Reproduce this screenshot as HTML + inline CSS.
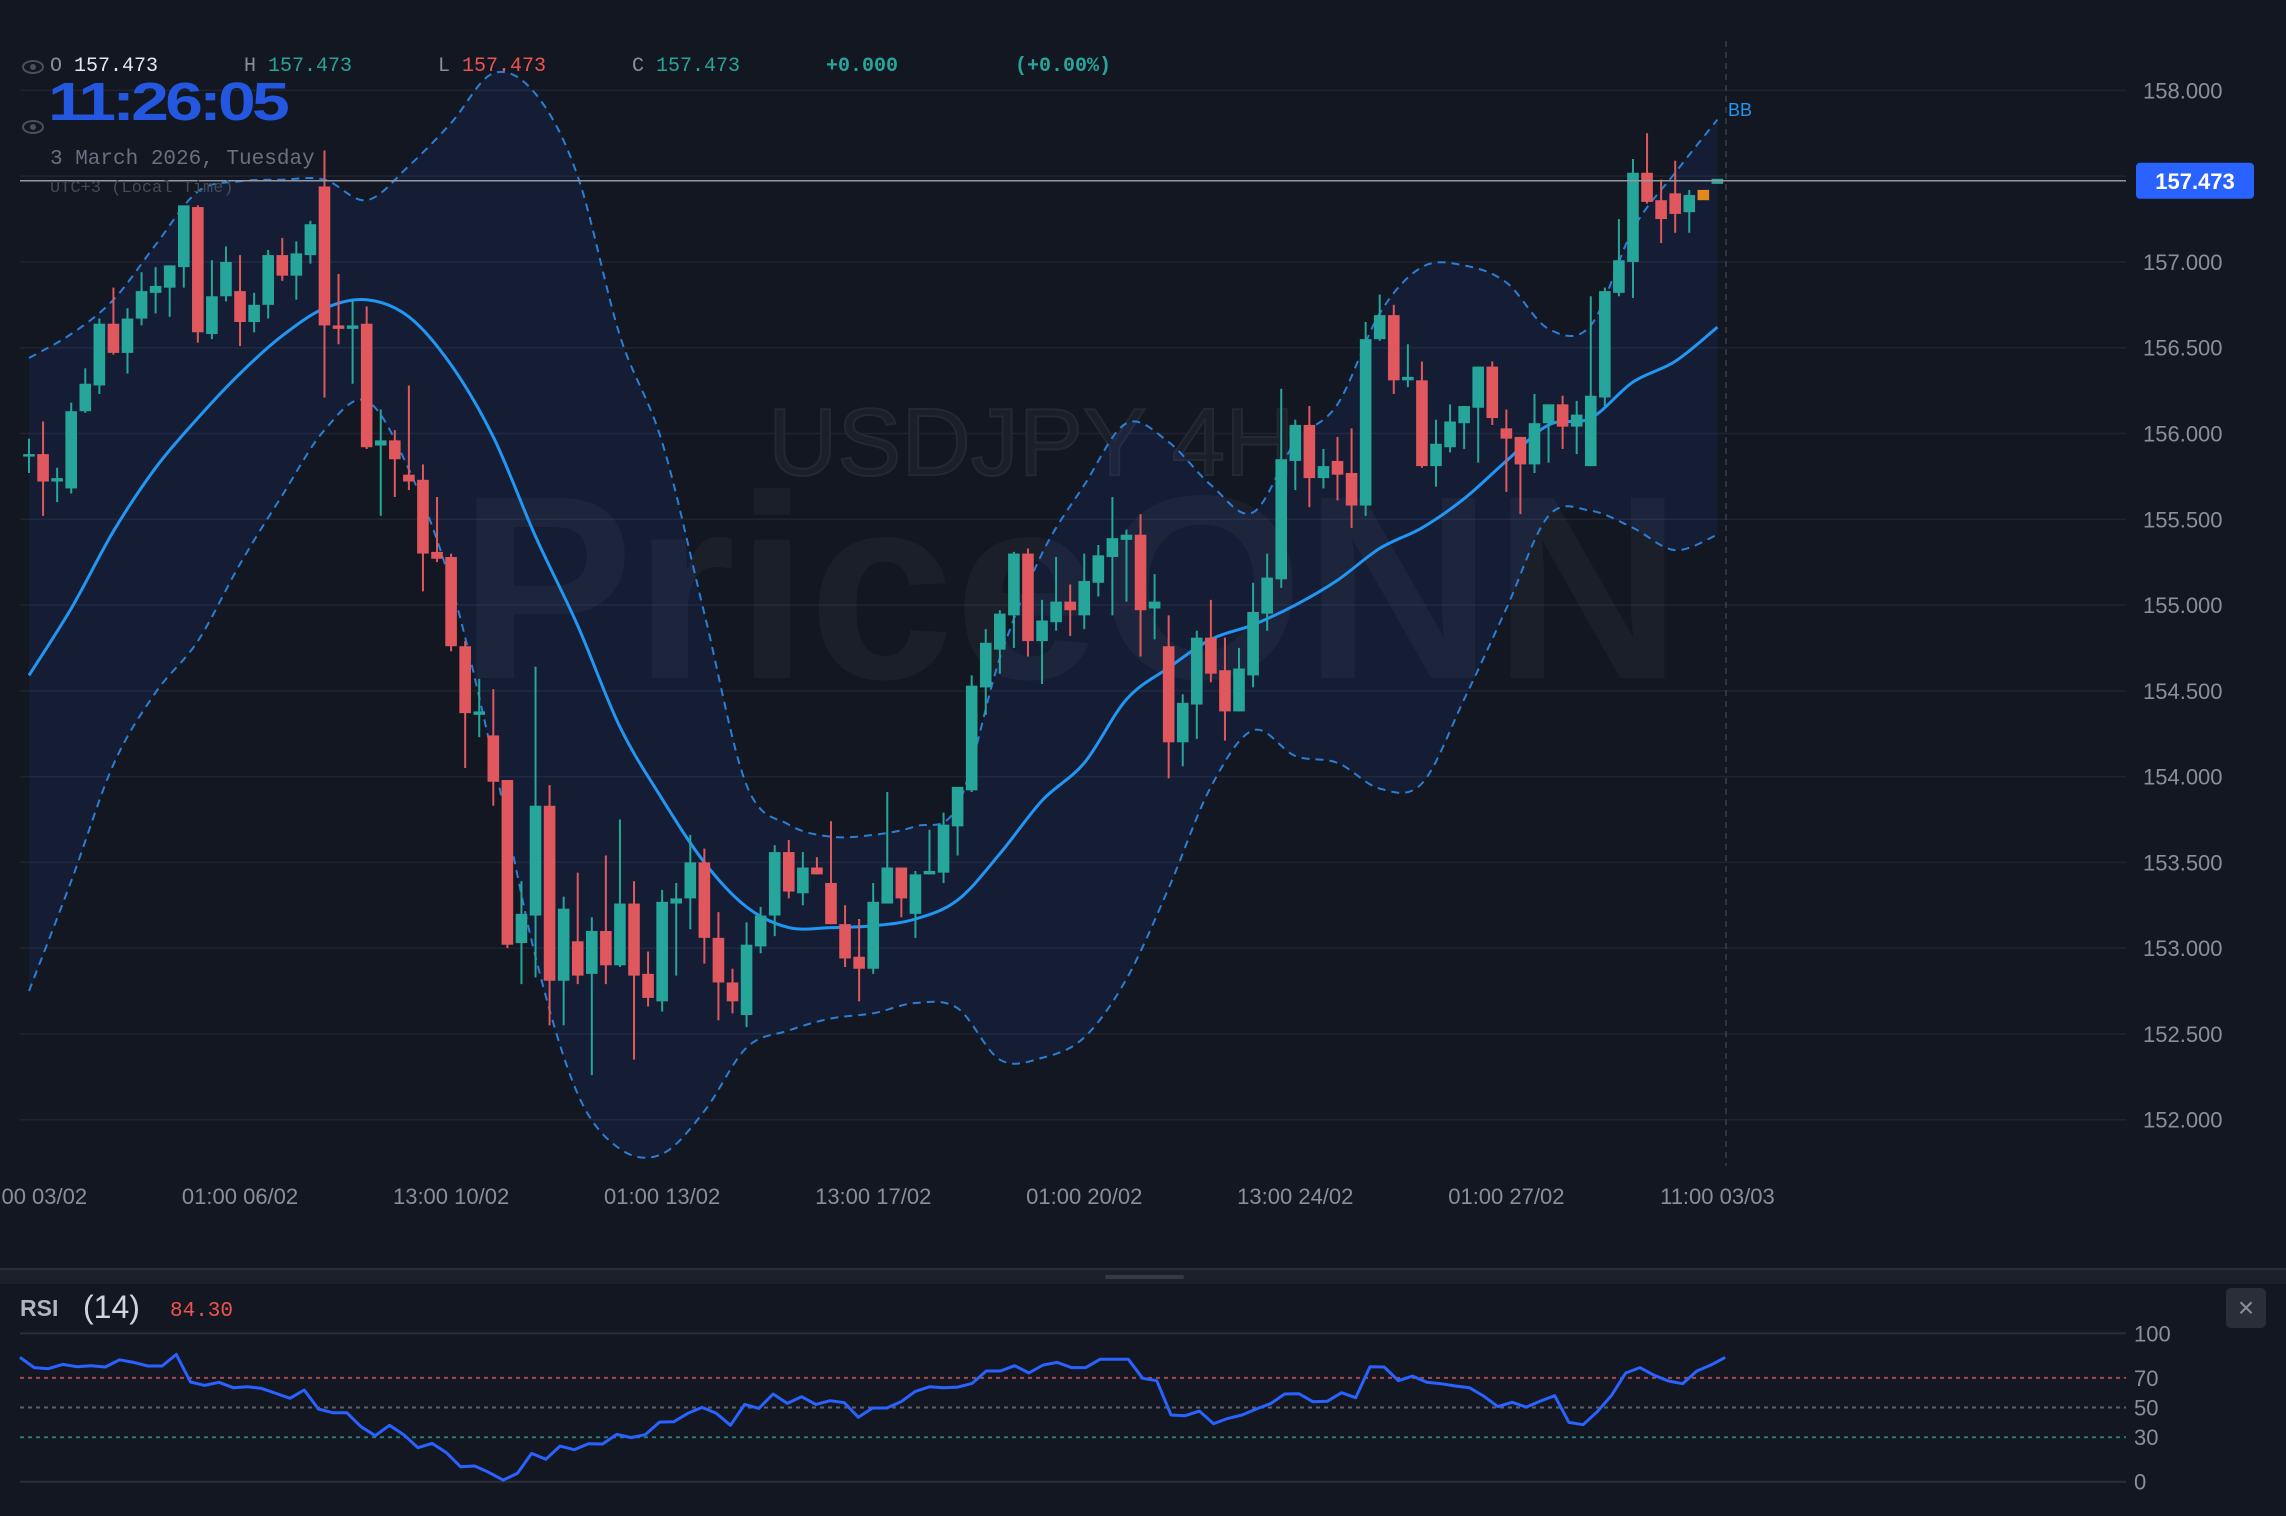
<!DOCTYPE html>
<html><head><meta charset="utf-8"><title>USDJPY 4H</title>
<style>
html,body{margin:0;padding:0;background:#131722;}
body{width:2286px;height:1516px;overflow:hidden;}
svg{display:block;}
text{font-family:"Liberation Sans",sans-serif;}
.mono{font-family:"Liberation Mono",monospace;}
</style></head>
<body>
<svg id="chart" width="2286" height="1516" viewBox="0 0 2286 1516" xmlns="http://www.w3.org/2000/svg">
  <rect x="0" y="0" width="2286" height="1516" fill="#131722"/>
  <g id="grid"></g>
  <g>
    <text x="768" y="475" font-size="96" fill="#1b1f29" stroke="#232834" stroke-width="2">USDJPY 4H</text>
    <text x="459" y="678" font-size="262" font-weight="bold" fill="#ffffff" fill-opacity="0.035">PriceONN</text>
  </g>
  <g id="bands"></g>
  <g id="candles"></g>
  <g id="xaxis"></g>
  <g id="yaxis"></g>
  <g id="overlay"></g>

  <g>
    <g transform="translate(33,67)">
      <ellipse rx="10" ry="6" fill="none" stroke="#4a4f5c" stroke-width="2"/><circle r="3" fill="#4a4f5c"/>
    </g>
    <g transform="translate(33,127)">
      <ellipse rx="10" ry="6" fill="none" stroke="#4a4f5c" stroke-width="2"/><circle r="3" fill="#4a4f5c"/>
    </g>
    <text class="mono" x="50" y="71" font-size="20" fill="#8a8f9a">O</text>
    <text class="mono" x="74" y="71" font-size="20" fill="#e6e8ee">157.473</text>
    <text class="mono" x="244" y="71" font-size="20" fill="#8a8f9a">H</text>
    <text class="mono" x="268" y="71" font-size="20" fill="#26a69a">157.473</text>
    <text class="mono" x="438" y="71" font-size="20" fill="#8a8f9a">L</text>
    <text class="mono" x="462" y="71" font-size="20" fill="#ef5350">157.473</text>
    <text class="mono" x="632" y="71" font-size="20" fill="#8a8f9a">C</text>
    <text class="mono" x="656" y="71" font-size="20" fill="#26a69a">157.473</text>
    <text class="mono" x="826" y="71" font-size="20" fill="#26a69a" font-weight="bold">+0.000</text>
    <text class="mono" x="1015" y="71" font-size="20" fill="#26a69a" font-weight="bold">(+0.00%)</text>
    <text x="48" y="120" font-size="54" font-weight="bold" fill="#2457e0" letter-spacing="-3" textLength="238" lengthAdjust="spacingAndGlyphs">11:26:05</text>
    <text class="mono" x="50" y="164" font-size="21" fill="#6b7080">3 March 2026, Tuesday</text>
    <text class="mono" x="50" y="192" font-size="17" fill="#454a57">UTC+3 (Local Time)</text>
  </g>

  <g>
    <rect x="0" y="1268" width="2286" height="16" fill="#1c202b"/>
    <rect x="0" y="1268" width="2286" height="2" fill="#2a2e39"/>
    <rect x="1105" y="1275" width="79" height="4" rx="2" fill="#363a45"/>
  </g>

  <g id="rsi">
    <text x="20" y="1316" font-size="23" font-weight="bold" fill="#b2b5be">RSI</text>
    <text x="83" y="1318" font-size="32" fill="#d1d4dc">(14)</text>
    <text class="mono" x="170" y="1316" font-size="21" fill="#ef5350">84.30</text>
    <g>
      <rect x="2226" y="1288" width="40" height="40" rx="5" fill="#2a2e39"/>
      <text x="2246" y="1317" font-size="28" fill="#8a8f9a" text-anchor="middle">×</text>
    </g>
  </g>
</svg>
<script>
// ---- Price data (4H candles) ----
const opens = [155.87,155.88,155.72,155.68,156.13,156.28,156.64,156.47,156.67,156.82,156.85,156.97,157.32,156.58,156.80,156.83,156.65,156.75,157.04,156.92,157.04,157.44,156.63,156.61,156.64,155.93,155.96,155.76,155.73,155.31,155.28,154.76,154.36,154.24,153.98,153.03,153.19,153.83,152.81,153.04,152.85,153.10,152.90,153.26,152.85,152.69,153.26,153.29,153.50,153.06,152.80,152.61,153.01,153.19,153.56,153.32,153.47,153.38,153.14,152.95,152.88,153.26,153.47,153.20,153.43,153.44,153.71,153.92,154.52,154.74,154.94,155.30,154.79,154.90,155.02,154.94,155.13,155.28,155.38,155.41,154.98,154.76,154.20,154.42,154.81,154.62,154.38,154.59,154.95,155.15,155.84,156.05,155.74,155.84,155.77,155.58,156.55,156.69,156.31,156.31,155.81,155.92,156.06,156.15,156.39,156.03,155.98,155.82,156.06,156.17,156.04,155.81,156.21,156.82,157.00,157.52,157.36,157.40,157.29,157.42,157.455];
const highs = [155.97,156.07,155.80,156.18,156.38,156.67,156.85,156.73,156.94,156.97,156.98,157.33,157.33,157.01,157.09,157.04,156.82,157.07,157.14,157.12,157.24,157.65,156.93,156.77,156.74,156.14,156.02,156.28,155.82,155.63,155.30,154.79,154.57,154.51,153.98,153.39,154.64,153.95,153.30,153.44,153.18,153.54,153.75,153.39,152.98,153.34,153.38,153.66,153.58,153.21,152.88,153.15,153.24,153.60,153.63,153.56,153.53,153.74,153.25,153.17,153.38,153.91,153.47,153.45,153.69,153.79,153.94,154.59,154.86,154.97,155.31,155.33,155.03,155.28,155.12,155.30,155.35,155.63,155.44,155.53,155.18,154.94,154.48,154.85,155.03,154.81,154.75,155.13,155.30,156.26,156.08,156.16,155.91,155.98,156.03,156.65,156.81,156.75,156.52,156.42,156.08,156.17,156.16,156.39,156.42,156.14,155.98,156.23,156.17,156.22,156.19,156.80,156.85,157.25,157.60,157.75,157.48,157.59,157.42,157.42,157.48];
const lows = [155.77,155.52,155.60,155.65,156.12,156.23,156.46,156.35,156.63,156.70,156.68,156.85,156.53,156.55,156.77,156.51,156.59,156.67,156.89,156.78,156.99,156.21,156.52,156.29,155.91,155.52,155.63,155.67,155.08,155.25,154.73,154.05,154.23,153.83,153.00,152.79,152.83,152.55,152.55,152.79,152.26,152.79,152.89,152.35,152.66,152.63,152.84,153.11,152.91,152.58,152.62,152.54,152.97,153.07,153.29,153.25,153.43,153.14,152.89,152.69,152.85,153.26,153.18,153.06,153.43,153.38,153.54,153.91,154.36,154.60,154.75,154.70,154.54,154.85,154.82,154.86,155.05,154.94,155.02,154.70,154.80,153.99,154.06,154.22,154.55,154.21,154.38,154.52,154.85,155.10,155.67,155.57,155.68,155.61,155.45,155.52,156.54,156.23,156.27,155.80,155.69,155.89,155.91,155.83,156.05,155.66,155.53,155.77,155.83,155.91,155.88,155.81,156.16,156.80,156.79,157.34,157.11,157.17,157.17,157.36,157.455];
const closes = [155.88,155.72,155.74,156.13,156.29,156.64,156.47,156.67,156.83,156.86,156.98,157.33,156.59,156.80,157.00,156.65,156.75,157.04,156.92,157.05,157.22,156.63,156.61,156.63,155.92,155.96,155.85,155.72,155.30,155.27,154.76,154.37,154.38,153.97,153.02,153.20,153.83,152.81,153.23,152.84,153.10,152.90,153.26,152.84,152.71,153.27,153.29,153.50,153.06,152.80,152.69,153.02,153.19,153.56,153.33,153.47,153.43,153.14,152.94,152.88,153.27,153.47,153.29,153.43,153.45,153.72,153.94,154.53,154.78,154.95,155.30,154.79,154.91,155.02,154.97,155.14,155.29,155.39,155.41,154.97,155.02,154.20,154.43,154.81,154.60,154.38,154.63,154.96,155.16,155.85,156.05,155.74,155.81,155.76,155.58,156.55,156.69,156.31,156.33,155.81,155.94,156.07,156.16,156.39,156.09,155.97,155.82,156.06,156.17,156.04,156.11,156.22,156.83,157.01,157.52,157.35,157.25,157.28,157.39,157.36,157.485];
const pendingIndex = 119;
const lastPrice = 157.473;
const priceTicks = [152.0,152.5,153.0,153.5,154.0,154.5,155.0,155.5,156.0,156.5,157.0,157.5,158.0];
const timeLabelIndex = [0,15,30,45,60,75,90,105,120];
const timeLabels = ["01:00 03/02","01:00 06/02","13:00 10/02","01:00 13/02","13:00 17/02","01:00 20/02","13:00 24/02","01:00 27/02","11:00 03/03"];
// Bollinger Bands (20,2), sampled every 3 candles
const bbIndex = [0,3,6,9,12,15,18,21,24,27,30,33,36,39,42,45,48,51,54,57,60,63,66,69,72,75,78,81,84,87,90,93,96,99,102,105,108,111,114,117,120];
const bbUpper = [156.44,156.58,156.78,157.10,157.41,157.47,157.48,157.48,157.36,157.56,157.81,158.10,157.98,157.50,156.57,155.95,154.95,153.95,153.72,153.65,153.66,153.71,153.83,154.69,155.30,155.70,156.06,155.95,155.70,155.54,155.95,156.17,156.70,156.97,156.98,156.88,156.61,156.63,157.19,157.52,157.83];
const bbMiddle = [154.59,154.98,155.43,155.80,156.09,156.35,156.57,156.73,156.78,156.68,156.40,155.98,155.40,154.88,154.29,153.87,153.50,153.24,153.12,153.12,153.13,153.17,153.28,153.55,153.86,154.08,154.45,154.635,154.80,154.885,155.00,155.145,155.33,155.45,155.62,155.84,156.05,156.09,156.30,156.42,156.62];
const bbLower = [152.75,153.39,154.07,154.49,154.79,155.24,155.64,156.02,156.19,155.79,155.12,154.10,152.95,152.15,151.83,151.80,152.05,152.42,152.52,152.59,152.62,152.68,152.65,152.35,152.36,152.48,152.82,153.35,153.94,154.27,154.12,154.08,153.93,153.96,154.45,154.98,155.52,155.55,155.45,155.32,155.41];
// RSI(14)
const rsiValues = [83.8,76.9,76.2,79.1,77.5,78.2,77.3,82.2,80.4,78.0,78.0,85.8,67.2,64.9,67.0,63.4,64.0,62.9,59.6,56.2,61.8,49.0,46.5,46.5,37.1,31.0,38.0,31.7,22.9,25.8,19.6,10.1,10.6,6.3,1.1,5.6,19.1,15.1,24.0,21.6,25.6,25.4,31.9,29.7,31.7,40.2,40.4,46.1,50.1,46.1,38.0,52.1,49.4,59.1,52.8,57.3,52.1,54.6,53.3,43.4,49.7,49.7,53.9,60.9,64.0,63.4,63.8,66.3,74.6,74.6,78.2,73.3,78.7,80.4,76.9,76.9,82.5,82.5,82.5,69.7,68.1,45.0,44.5,47.6,39.1,42.7,45.0,49.0,52.6,59.1,59.3,53.9,54.2,60.0,56.6,77.5,77.3,68.1,71.2,67.0,66.1,64.5,63.4,57.8,50.6,53.5,50.3,54.4,58.0,40.0,38.4,47.2,58.2,73.3,76.9,71.7,67.9,66.1,74.6,78.7,83.8];
const rsiLevels = [70,50,30];
const rsiTicks = [100,70,50,30,0];

const NS = "http://www.w3.org/2000/svg";
function mk(tag, attrs, parent){const e=document.createElementNS(NS,tag);for(const k in attrs)e.setAttribute(k,attrs[k]);parent.appendChild(e);return e;}
const X0 = 29, DX = 14.07;
function xs(i){return X0 + i*DX;}
function ys(p){return 90.4 + (158 - p)*171.55;}
function xr(i){return 20 + i*14.21;}
function yr(v){return 1481.7 - v*1.4833;}
const PLOT_R = 2126;

const grid = document.getElementById('grid');
const yaxis = document.getElementById('yaxis');
priceTicks.forEach(function(p){
  const l = mk('line',{x1:20,x2:PLOT_R,y1:ys(p),y2:ys(p),stroke:'#1f2430','stroke-width':1.5},grid);
  
  
  const t = mk('text',{x:2143,y:ys(p)+8,'font-size':22,fill:'#8a8f9a'},yaxis);
  t.textContent = p.toFixed(3);
  
  
});

const xaxis = document.getElementById('xaxis');
timeLabels.forEach(function(s,k){
  const t = mk('text',{x:xs(timeLabelIndex[k]),y:1204,'font-size':22,fill:'#8a8f9a','text-anchor':'middle'},xaxis);
  t.textContent = s;
  
  
});

// smooth path through points (Catmull-Rom)
function smoothPts(pts, move){
  let d = (move ? 'M' : 'L') + pts[0][0].toFixed(1) + ',' + pts[0][1].toFixed(1);
  for(let k=0;k<pts.length-1;k++){
    const p0 = pts[Math.max(0,k-1)], p1 = pts[k], p2 = pts[k+1], p3 = pts[Math.min(pts.length-1,k+2)];
    const c1x = p1[0] + (p2[0]-p0[0])/6, c1y = p1[1] + (p2[1]-p0[1])/6;
    const c2x = p2[0] - (p3[0]-p1[0])/6, c2y = p2[1] - (p3[1]-p1[1])/6;
    d += 'C'+c1x.toFixed(1)+','+c1y.toFixed(1)+' '+c2x.toFixed(1)+','+c2y.toFixed(1)+' '+p2[0].toFixed(1)+','+p2[1].toFixed(1);
  }
  return d;
}
function bandPts(arr){return arr.map(function(v,k){return [xs(bbIndex[k]), ys(v)];});}

// Bollinger bands
const bands = document.getElementById('bands');
const upPts = bandPts(bbUpper), loPts = bandPts(bbLower), midPts = bandPts(bbMiddle);
const fillD = smoothPts(upPts, true) + smoothPts(loPts.slice().reverse(), false) + 'Z';
const bf = mk('path',{d:fillD,fill:'#2962ff','fill-opacity':0.09},bands);


const bu = mk('path',{d:smoothPts(upPts,true),fill:'none',stroke:'#2a7fd4','stroke-width':2,'stroke-dasharray':'8,6'},bands);


const bl = mk('path',{d:smoothPts(loPts,true),fill:'none',stroke:'#2a7fd4','stroke-width':2,'stroke-dasharray':'8,6'},bands);


const bm = mk('path',{d:smoothPts(midPts,true),fill:'none',stroke:'#2196f3','stroke-width':3,'stroke-linejoin':'round'},bands);



// Candles
const cg = document.getElementById('candles');
opens.forEach(function(o,i){
  const c = closes[i], h = highs[i], l = lows[i];
  let col = c >= o ? '#26a69a' : '#e0585d';
  if(i === pendingIndex) col = '#e08a1e';
  const g = mk('g',{},cg);
  
  
  const x = xs(i);
  if(i !== pendingIndex){
    mk('line',{x1:x,x2:x,y1:ys(h),y2:ys(l),stroke:col,'stroke-width':2},g);
  }
  const top = ys(Math.max(o,c)), bot = ys(Math.min(o,c));
  mk('rect',{x:x-5.8,y:top,width:11.6,height:Math.max(2.5,bot-top),fill:col},g);
});

// Overlay
const ov = document.getElementById('overlay');
const pl = mk('line',{x1:20,x2:PLOT_R,y1:ys(lastPrice),y2:ys(lastPrice),stroke:'#9598a1','stroke-width':1.5},ov);


const vc = mk('line',{x1:1726,x2:1726,y1:41,y2:1166,stroke:'#3a3f4b','stroke-width':1.5,'stroke-dasharray':'6,5'},ov);


const tag = mk('g',{},ov);


mk('rect',{x:2136,y:ys(lastPrice)-18,width:118,height:36,rx:4,fill:'#2962ff'},tag);
const tt = mk('text',{x:2195,y:ys(lastPrice)+8,'font-size':22,'font-weight':'bold',fill:'#ffffff','text-anchor':'middle'},tag);
tt.textContent = lastPrice.toFixed(3);
const bbl = mk('text',{x:1728,y:116,'font-size':18,fill:'#2196f3'},ov);
bbl.textContent = 'BB';



// RSI
const rg = document.getElementById('rsi');
[100,0].forEach(function(v){
  const l = mk('line',{x1:20,x2:PLOT_R,y1:yr(v),y2:yr(v),stroke:'#2a2e39','stroke-width':2},rg);
  
  
});
const levelColors = ['#a8474c','#5d606b','#2a7a72'];
rsiLevels.forEach(function(v,k){
  const l = mk('line',{x1:20,x2:PLOT_R,y1:yr(v),y2:yr(v),stroke:levelColors[k],'stroke-width':2,'stroke-dasharray':'4,4'},rg);
  
  
});
rsiTicks.forEach(function(v){
  const t = mk('text',{x:2134,y:yr(v)+8,'font-size':22,fill:'#8a8f9a'},rg);
  t.textContent = String(v);
  
  
});
let rd = '';
rsiValues.forEach(function(v,k){rd += (k?'L':'M') + xr(k).toFixed(1) + ',' + yr(v).toFixed(1);});
const rl = mk('path',{d:rd,fill:'none',stroke:'#2962ff','stroke-width':3,'stroke-linejoin':'round'},rg);


</script>
</body></html>
